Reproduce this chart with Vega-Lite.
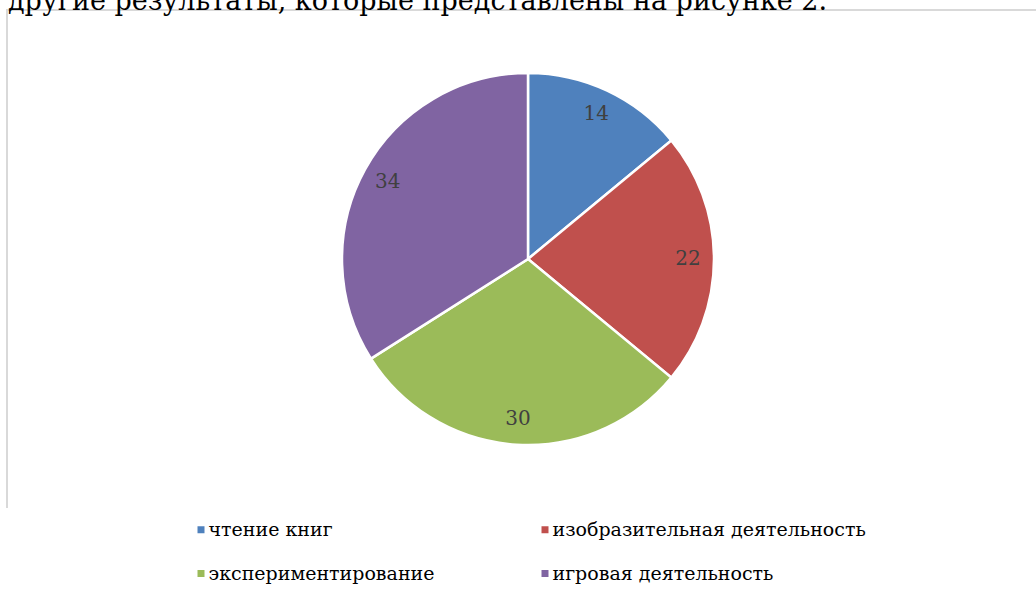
{
  "$schema": "https://vega.github.io/schema/vega-lite/v6.json",
  "autosize": "none",
  "width": 1042,
  "height": 498,
  "padding": {"left": 7, "top": 10, "right": 0, "bottom": 90},
  "background": "white",
  "view": {"stroke": "#d9d9d9", "strokeWidth": 2, "strokeDash": [1042, 1540, 498]},
  "title": {
    "text": "другие результаты, которые представлены на рисунке 2.",
    "anchor": "start",
    "font": "DejaVu Serif",
    "fontSize": 27,
    "fontWeight": "normal",
    "color": "#000000",
    "baseline": "alphabetic",
    "offset": 0,
    "dx": 1,
    "dy": 27
  },
  "config": {
    "legend": {
      "orient": "none",
      "legendX": 184.5,
      "legendY": 510,
      "columns": 2,
      "padding": 0,
      "symbolType": "square",
      "symbolSize": 49,
      "symbolStrokeWidth": 0,
      "labelFont": "DejaVu Serif",
      "labelFontSize": 19,
      "labelColor": "#000000",
      "labelOffset": -2,
      "labelLimit": 600,
      "rowPadding": 24,
      "columnPadding": 101
    }
  },
  "data": {
    "values": [
      {"category": "чтение книг", "value": 14},
      {"category": "изобразительная деятельность", "value": 22},
      {"category": "экспериментирование", "value": 30},
      {"category": "игровая деятельность", "value": 34}
    ]
  },
  "transform": [{"window": [{"op": "row_number", "as": "idx"}]}],
  "encoding": {
    "theta": {"field": "value", "type": "quantitative", "stack": true},
    "order": {"field": "idx", "type": "quantitative"},
    "color": {
      "field": "category",
      "type": "nominal",
      "sort": null,
      "scale": {
        "domain": ["чтение книг", "экспериментирование", "изобразительная деятельность", "игровая деятельность"],
        "range": ["#4F81BD", "#9BBB59", "#C0504D", "#8064A2"]
      },
      "legend": {"title": null}
    }
  },
  "layer": [
    {
      "mark": {"type": "arc", "outerRadius": 186, "stroke": "white", "strokeWidth": 2.5}
    },
    {
      "mark": {"type": "text", "radius": 160, "font": "DejaVu Serif", "fontSize": 20, "fill": "#404040", "baseline": "middle", "align": "center"},
      "encoding": {
        "text": {"field": "value", "type": "quantitative"},
        "color": {"value": "#404040"}
      }
    }
  ]
}
